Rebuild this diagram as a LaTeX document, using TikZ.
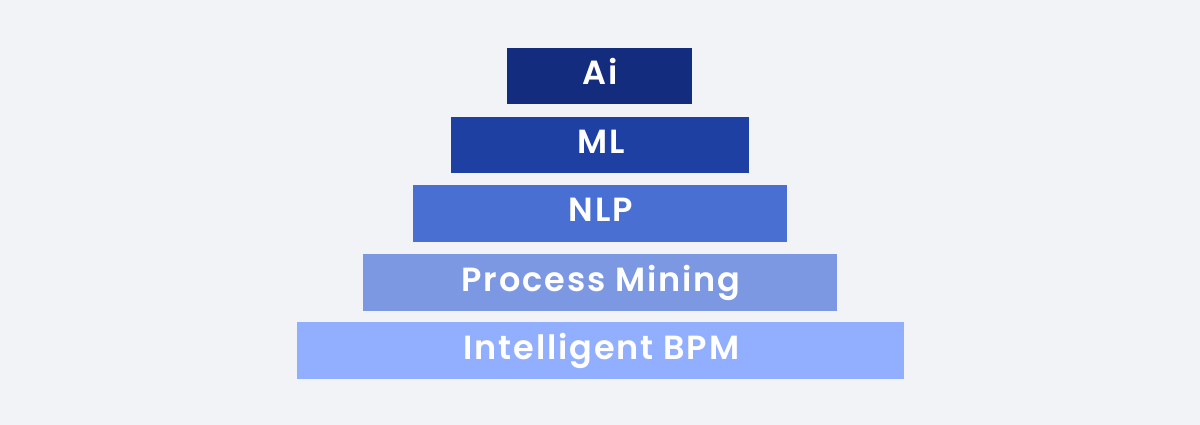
\documentclass[tikz,border=0pt]{standalone}
\usepackage{fontspec}
\newfontfamily\lblfont{Poppins SemiBold}[LetterSpace=5.5]
\definecolor{bgc}{HTML}{F1F3F7}
\definecolor{cai}{HTML}{132C7E}
\definecolor{cml}{HTML}{1F40A3}
\definecolor{cnlp}{HTML}{4A6FD2}
\definecolor{cpm}{HTML}{7D98E2}
\definecolor{cbpm}{HTML}{92AEFF}
\begin{document}
\begin{tikzpicture}[x=1pt,y=-1pt,
  bar/.style={fill=#1, draw=none, inner sep=0pt, outer sep=0pt},
  lbl/.style={text=white, font=\fontsize{33.5}{38}\lblfont, anchor=base, inner sep=0pt}]
\fill[bgc] (0,0) rectangle (1200,425);
\useasboundingbox (0,0) rectangle (1200,425);
\path[bar=cai]  (507,48)  rectangle (692,104.5);
\path[bar=cml]  (451,117) rectangle (749,173.5);
\path[bar=cnlp] (413,185) rectangle (787,241.5);
\path[bar=cpm]  (363,254) rectangle (837,310.5);
\path[bar=cbpm] (297,322) rectangle (904,378.5);
\node[lbl] (ai)   at (600.5,85)  {Ai};
\node[lbl] (ml)   at (601,154) {ML};
\node[lbl] (nlp)  at (601,222) {NLP};
\node[lbl] (pm)   at (601,291) {Process Mining};
\node[lbl] (bpm)  at (601.5,359) {Intelligent BPM};
\end{tikzpicture}
\end{document}
